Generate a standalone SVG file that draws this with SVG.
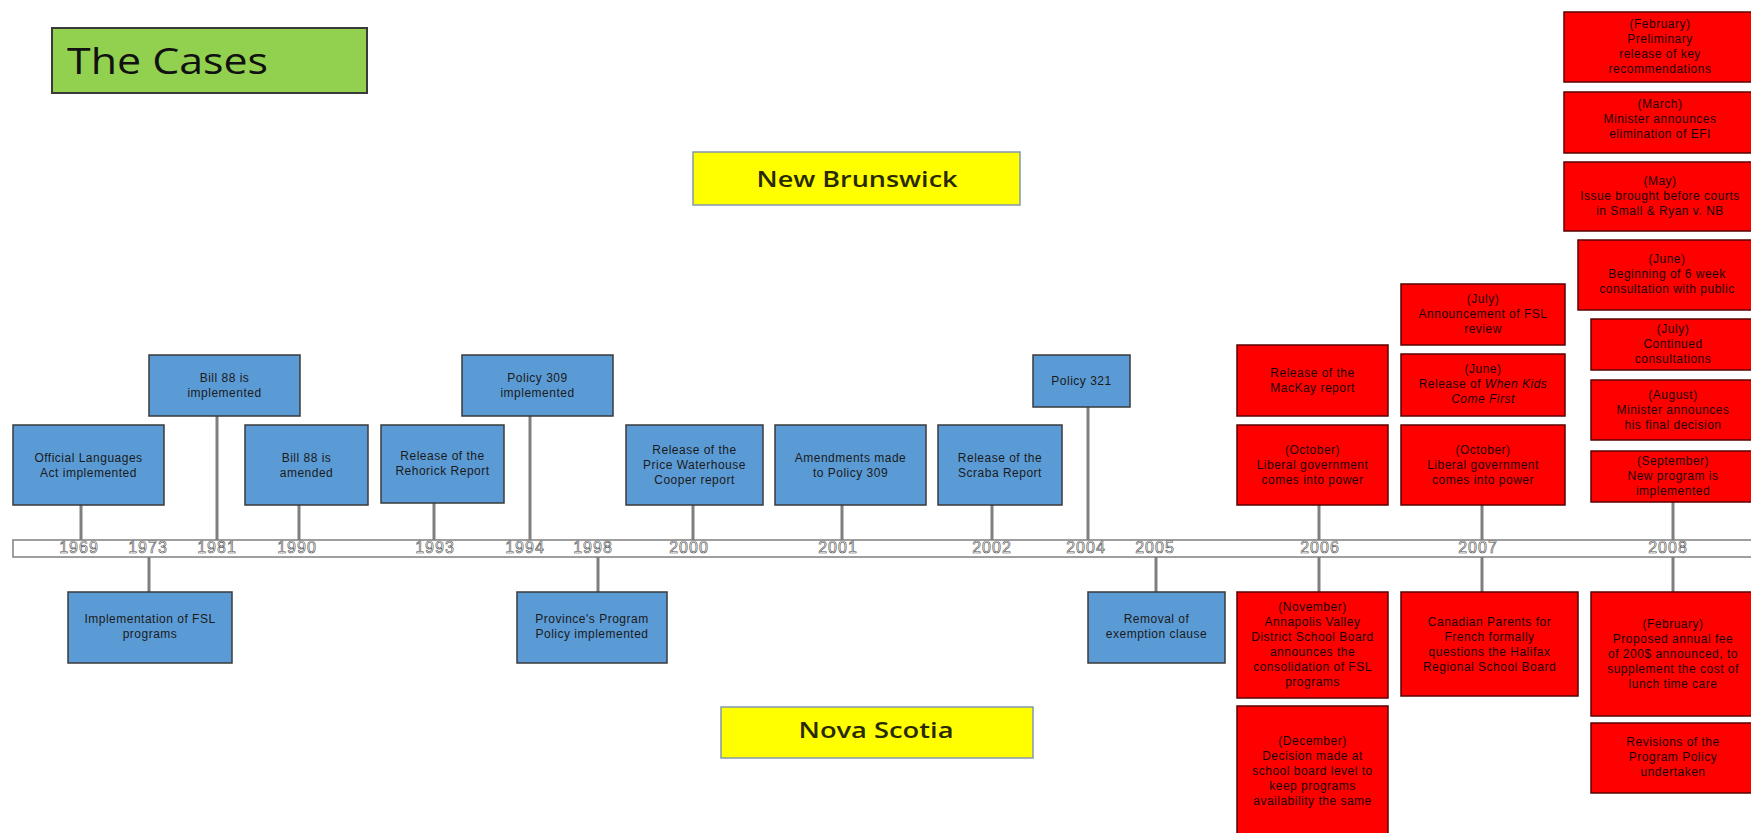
<svg xmlns="http://www.w3.org/2000/svg" width="1751" height="833" viewBox="0 0 1751 833">
<style>
.bl{fill:#5b9bd5;stroke:#3a3a3a;stroke-width:1.5}
.rd{fill:#ff0000;stroke:#5a0000;stroke-width:1.5}
.t{font-family:"Liberation Sans",Arial,sans-serif;font-size:12px;letter-spacing:0.5px;text-anchor:middle;fill:#1a1a1a}
.rt{fill:#1a0000}
.yr{font-family:"Liberation Sans",Arial,sans-serif;font-size:16px;letter-spacing:1px;text-anchor:middle;fill:#fff;stroke:#4a4a4a;stroke-width:0.6}
.hd{font-family:"Open Sans","Liberation Sans",sans-serif;font-weight:600;text-anchor:middle;fill:#2a2a00}
.cn{stroke:#7f7f7f;stroke-width:3;fill:none}
</style>
<rect width="1751" height="833" fill="#fff"/>

<g id="title">
<rect x="52" y="28" width="315" height="65" fill="#92d050" stroke="#3a3a3a" stroke-width="2"/>
<text x="67" y="74" font-family="'Open Sans','Liberation Sans',sans-serif" font-size="36" fill="#111" textLength="201" lengthAdjust="spacingAndGlyphs">The Cases</text>
</g>

<g id="label-nb">
<rect x="693" y="152" width="327" height="53" fill="#ffff00" stroke="#8497b0" stroke-width="1.5"/>
<text class="hd" x="857" y="187" font-size="21" textLength="201" lengthAdjust="spacingAndGlyphs">New Brunswick</text>
</g>
<g id="label-ns">
<rect x="721" y="707" width="312" height="51" fill="#ffff00" stroke="#8497b0" stroke-width="1.5"/>
<text class="hd" x="876" y="738" font-size="21" textLength="155" lengthAdjust="spacingAndGlyphs">Nova Scotia</text>
</g>

<g id="connectors">
<line class="cn" x1="81" y1="505" x2="81" y2="540"/>
<line class="cn" x1="149" y1="557" x2="149" y2="592"/>
<line class="cn" x1="217" y1="416" x2="217" y2="540"/>
<line class="cn" x1="299" y1="505" x2="299" y2="540"/>
<line class="cn" x1="434" y1="503" x2="434" y2="540"/>
<line class="cn" x1="530" y1="416" x2="530" y2="540"/>
<line class="cn" x1="598" y1="557" x2="598" y2="592"/>
<line class="cn" x1="693" y1="505" x2="693" y2="540"/>
<line class="cn" x1="842" y1="505" x2="842" y2="540"/>
<line class="cn" x1="992" y1="505" x2="992" y2="540"/>
<line class="cn" x1="1088" y1="407" x2="1088" y2="540"/>
<line class="cn" x1="1156" y1="557" x2="1156" y2="592"/>
<line class="cn" x1="1319" y1="505" x2="1319" y2="540"/>
<line class="cn" x1="1319" y1="557" x2="1319" y2="592"/>
<line class="cn" x1="1482" y1="505" x2="1482" y2="540"/>
<line class="cn" x1="1482" y1="557" x2="1482" y2="592"/>
<line class="cn" x1="1673" y1="502" x2="1673" y2="540"/>
<line class="cn" x1="1673" y1="557" x2="1673" y2="592"/>
</g>

<g id="timeline">
<rect x="13" y="540" width="1760" height="17" fill="#fff" stroke="#7f7f7f" stroke-width="1.5"/>
<text class="yr" x="79" y="553">1969</text>
<text class="yr" x="148" y="553">1973</text>
<text class="yr" x="217" y="553">1981</text>
<text class="yr" x="297" y="553">1990</text>
<text class="yr" x="435" y="553">1993</text>
<text class="yr" x="525" y="553">1994</text>
<text class="yr" x="593" y="553">1998</text>
<text class="yr" x="689" y="553">2000</text>
<text class="yr" x="838" y="553">2001</text>
<text class="yr" x="992" y="553">2002</text>
<text class="yr" x="1086" y="553">2004</text>
<text class="yr" x="1155" y="553">2005</text>
<text class="yr" x="1320" y="553">2006</text>
<text class="yr" x="1478" y="553">2007</text>
<text class="yr" x="1668" y="553">2008</text>
</g>

<g id="e1969"><rect class="bl" x="13" y="425" width="151" height="80"/>
<text class="t" x="88.5" y="461.5">Official Languages<tspan x="88.5" dy="15">Act implemented</tspan></text></g>
<g id="e1981"><rect class="bl" x="149" y="355" width="151" height="61"/>
<text class="t" x="224.5" y="382">Bill 88 is<tspan x="224.5" dy="15">implemented</tspan></text></g>
<g id="e1990"><rect class="bl" x="245" y="425" width="123" height="80"/>
<text class="t" x="306.5" y="461.5">Bill 88 is<tspan x="306.5" dy="15">amended</tspan></text></g>
<g id="e1973"><rect class="bl" x="68" y="592" width="164" height="71"/>
<text class="t" x="150" y="623">Implementation of FSL<tspan x="150" dy="15">programs</tspan></text></g>
<g id="e1993"><rect class="bl" x="381" y="425" width="123" height="78"/>
<text class="t" x="442.5" y="460">Release of the<tspan x="442.5" dy="15">Rehorick Report</tspan></text></g>
<g id="e1994"><rect class="bl" x="462" y="355" width="151" height="61"/>
<text class="t" x="537.5" y="382">Policy 309<tspan x="537.5" dy="15">implemented</tspan></text></g>
<g id="e1998"><rect class="bl" x="517" y="592" width="150" height="71"/>
<text class="t" x="592" y="623">Province's Program<tspan x="592" dy="15">Policy implemented</tspan></text></g>
<g id="e2000"><rect class="bl" x="626" y="425" width="137" height="80"/>
<text class="t" x="694.5" y="454">Release of the<tspan x="694.5" dy="15">Price Waterhouse</tspan><tspan x="694.5" dy="15">Cooper report</tspan></text></g>
<g id="e2001"><rect class="bl" x="775" y="425" width="151" height="80"/>
<text class="t" x="850.5" y="461.5">Amendments made<tspan x="850.5" dy="15">to Policy 309</tspan></text></g>
<g id="e2002"><rect class="bl" x="938" y="425" width="124" height="80"/>
<text class="t" x="1000" y="461.5">Release of the<tspan x="1000" dy="15">Scraba Report</tspan></text></g>
<g id="e2004"><rect class="bl" x="1033" y="355" width="97" height="52"/>
<text class="t" x="1081.5" y="385">Policy 321</text></g>
<g id="e2005"><rect class="bl" x="1088" y="592" width="137" height="71"/>
<text class="t" x="1156.5" y="623">Removal of<tspan x="1156.5" dy="15">exemption clause</tspan></text></g>

<g id="nb2006a"><rect class="rd" x="1237" y="345" width="151" height="71"/>
<text class="t rt" x="1312.5" y="377">Release of the<tspan x="1312.5" dy="15">MacKay report</tspan></text></g>
<g id="nb2006b"><rect class="rd" x="1237" y="425" width="151" height="80"/>
<text class="t rt" x="1312.5" y="454">(October)<tspan x="1312.5" dy="15">Liberal government</tspan><tspan x="1312.5" dy="15">comes into power</tspan></text></g>
<g id="ns2006a"><rect class="rd" x="1237" y="592" width="151" height="106"/>
<text class="t rt" x="1312.5" y="611">(November)<tspan x="1312.5" dy="15">Annapolis Valley</tspan><tspan x="1312.5" dy="15">District School Board</tspan><tspan x="1312.5" dy="15">announces the</tspan><tspan x="1312.5" dy="15">consolidation of FSL</tspan><tspan x="1312.5" dy="15">programs</tspan></text></g>
<g id="ns2006b"><rect class="rd" x="1237" y="706" width="151" height="132"/>
<text class="t rt" x="1312.5" y="745">(December)<tspan x="1312.5" dy="15">Decision made at</tspan><tspan x="1312.5" dy="15">school board level to</tspan><tspan x="1312.5" dy="15">keep programs</tspan><tspan x="1312.5" dy="15">availability the same</tspan></text></g>

<g id="nb2007a"><rect class="rd" x="1401" y="284" width="164" height="61"/>
<text class="t rt" x="1483" y="303">(July)<tspan x="1483" dy="15">Announcement of FSL</tspan><tspan x="1483" dy="15">review</tspan></text></g>
<g id="nb2007b"><rect class="rd" x="1401" y="354" width="164" height="62"/>
<text class="t rt" x="1483" y="373">(June)<tspan x="1483" dy="15">Release of <tspan font-style="italic">When Kids</tspan></tspan><tspan x="1483" dy="15" font-style="italic">Come First</tspan></text></g>
<g id="nb2007c"><rect class="rd" x="1401" y="425" width="164" height="80"/>
<text class="t rt" x="1483" y="454">(October)<tspan x="1483" dy="15">Liberal government</tspan><tspan x="1483" dy="15">comes into power</tspan></text></g>
<g id="ns2007"><rect class="rd" x="1401" y="592" width="177" height="104"/>
<text class="t rt" x="1489.5" y="626">Canadian Parents for<tspan x="1489.5" dy="15">French formally</tspan><tspan x="1489.5" dy="15">questions the Halifax</tspan><tspan x="1489.5" dy="15">Regional School Board</tspan></text></g>

<g id="nb2008a"><rect class="rd" x="1564" y="12" width="200" height="70"/>
<text class="t rt" x="1660" y="28">(February)<tspan x="1660" dy="15">Preliminary</tspan><tspan x="1660" dy="15">release of key</tspan><tspan x="1660" dy="15">recommendations</tspan></text></g>
<g id="nb2008b"><rect class="rd" x="1564" y="92" width="200" height="61"/>
<text class="t rt" x="1660" y="108">(March)<tspan x="1660" dy="15">Minister announces</tspan><tspan x="1660" dy="15">elimination of EFI</tspan></text></g>
<g id="nb2008c"><rect class="rd" x="1564" y="162" width="200" height="69"/>
<text class="t rt" x="1660" y="185">(May)<tspan x="1660" dy="15">Issue brought before courts</tspan><tspan x="1660" dy="15">in Small &amp; Ryan v. NB</tspan></text></g>
<g id="nb2008d"><rect class="rd" x="1578" y="240" width="190" height="70"/>
<text class="t rt" x="1667" y="263">(June)<tspan x="1667" dy="15">Beginning of 6 week</tspan><tspan x="1667" dy="15">consultation with public</tspan></text></g>
<g id="nb2008e"><rect class="rd" x="1591" y="319" width="170" height="51"/>
<text class="t rt" x="1673" y="333">(July)<tspan x="1673" dy="15">Continued</tspan><tspan x="1673" dy="15">consultations</tspan></text></g>
<g id="nb2008f"><rect class="rd" x="1591" y="380" width="170" height="60"/>
<text class="t rt" x="1673" y="399">(August)<tspan x="1673" dy="15">Minister announces</tspan><tspan x="1673" dy="15">his final decision</tspan></text></g>
<g id="nb2008g"><rect class="rd" x="1591" y="451" width="170" height="51"/>
<text class="t rt" x="1673" y="465">(September)<tspan x="1673" dy="15">New program is</tspan><tspan x="1673" dy="15">implemented</tspan></text></g>
<g id="ns2008a"><rect class="rd" x="1591" y="592" width="170" height="124"/>
<text class="t rt" x="1673" y="628">(February)<tspan x="1673" dy="15">Proposed annual fee</tspan><tspan x="1673" dy="15">of 200$ announced, to</tspan><tspan x="1673" dy="15">supplement the cost of</tspan><tspan x="1673" dy="15">lunch time care</tspan></text></g>
<g id="ns2008b"><rect class="rd" x="1591" y="723" width="170" height="70"/>
<text class="t rt" x="1673" y="746">Revisions of the<tspan x="1673" dy="15">Program Policy</tspan><tspan x="1673" dy="15">undertaken</tspan></text></g>
</svg>
